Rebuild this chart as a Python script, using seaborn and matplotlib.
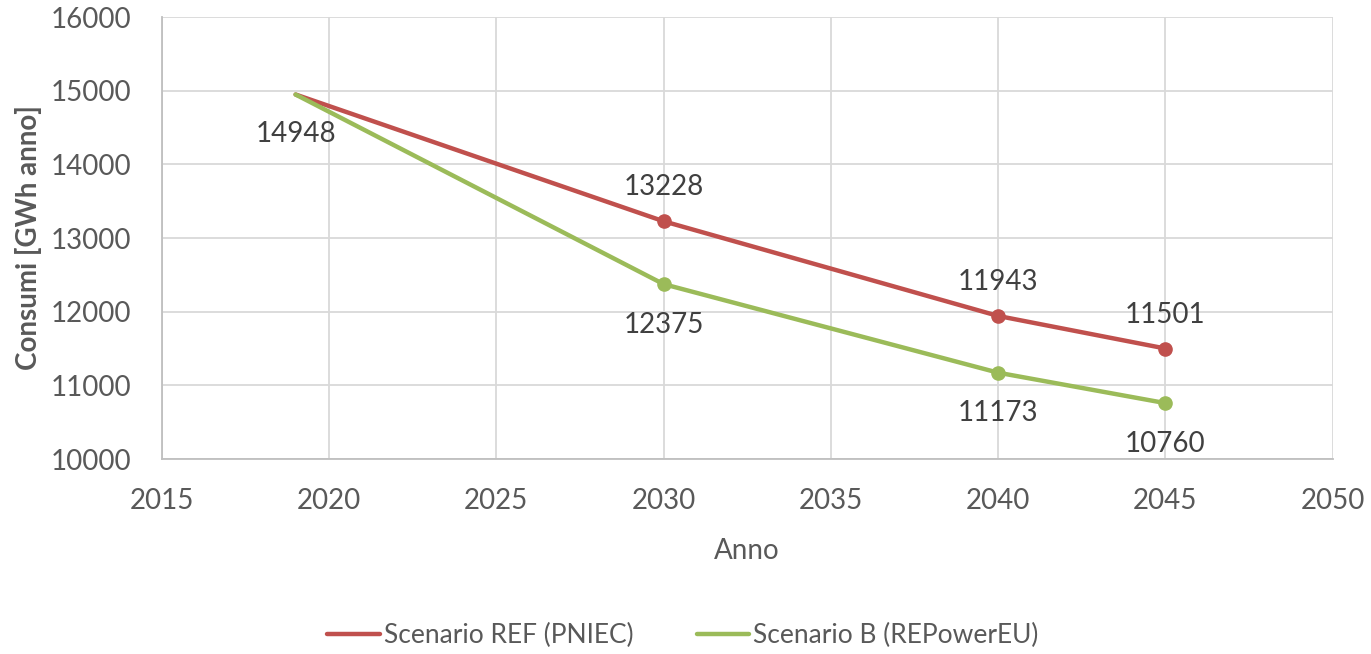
import matplotlib
matplotlib.use("Agg")
import matplotlib.pyplot as plt
import seaborn as sns
import pandas as pd

years = [2019, 2030, 2040, 2045]
ref_values = [14948, 13228, 11943, 11501]
b_values = [14948, 12375, 11173, 10760]
series_names = ["Scenario REF (PNIEC)", "Scenario B (REPowerEU)"]
colors = ["#C0504D", "#9BBB59"]

df = pd.DataFrame({
    "Anno": years * 2,
    "Consumi": ref_values + b_values,
    "Scenario": [series_names[0]] * len(years) + [series_names[1]] * len(years),
})

sns.set_theme(style="white")
plt.rcParams['font.family'] = ['Lato', 'DejaVu Sans']

fig = plt.figure(figsize=(13.71, 6.54), dpi=100)
ax = fig.add_axes([0.118, 0.298, 0.854, 0.676])

sns.lineplot(data=df, x="Anno", y="Consumi", hue="Scenario", palette=colors,
             linewidth=3.2, ax=ax, legend=True)

# markers except first point
for vals, c in zip([ref_values, b_values], colors):
    ax.plot(years[1:], vals[1:], 'o', color=c, markersize=9.5, zorder=5)

ax.set_xlim(2015, 2050)
ax.set_ylim(10000, 16000)
ax.set_xticks(range(2015, 2051, 5))
ax.set_yticks(range(10000, 16001, 1000))
ax.grid(True, color="#D9D9D9", linewidth=1.3)
ax.set_axisbelow(True)
for s in ["top", "right"]:
    ax.spines[s].set_visible(False)
for s in ["left", "bottom"]:
    ax.spines[s].set_color("#BFBFBF")
    ax.spines[s].set_linewidth(1.3)
ax.tick_params(axis="y", labelsize=20, colors="#595959", length=0, pad=22)
ax.tick_params(axis="x", labelsize=20, colors="#595959", length=0, pad=21)
ax.set_xlabel("Anno", fontsize=20, color="#595959", labelpad=17)
ax.set_ylabel("Consumi [GWh anno]", fontsize=20, color="#595959", fontweight="bold", labelpad=6)

tc = "#404040"
fs = 20
ax.annotate(str(ref_values[0]), (years[0], ref_values[0]), xytext=(0, -19), textcoords="offset points", ha="center", va="top", fontsize=fs, color=tc)
for x, y in zip(years[1:], ref_values[1:]):
    ax.annotate(str(y), (x, y), xytext=(0, 15), textcoords="offset points", ha="center", va="bottom", fontsize=fs, color=tc)
for x, y in zip(years[1:], b_values[1:]):
    ax.annotate(str(y), (x, y), xytext=(0, -20), textcoords="offset points", ha="center", va="top", fontsize=fs, color=tc)

leg = ax.legend(loc="center", bbox_to_anchor=(0.445, -0.40), ncol=2, frameon=False,
                fontsize=19, handlelength=2.0, columnspacing=2.4, handletextpad=0.15)
for t in leg.get_texts():
    t.set_color("#595959")

fig.savefig("out.png", dpi=100)
